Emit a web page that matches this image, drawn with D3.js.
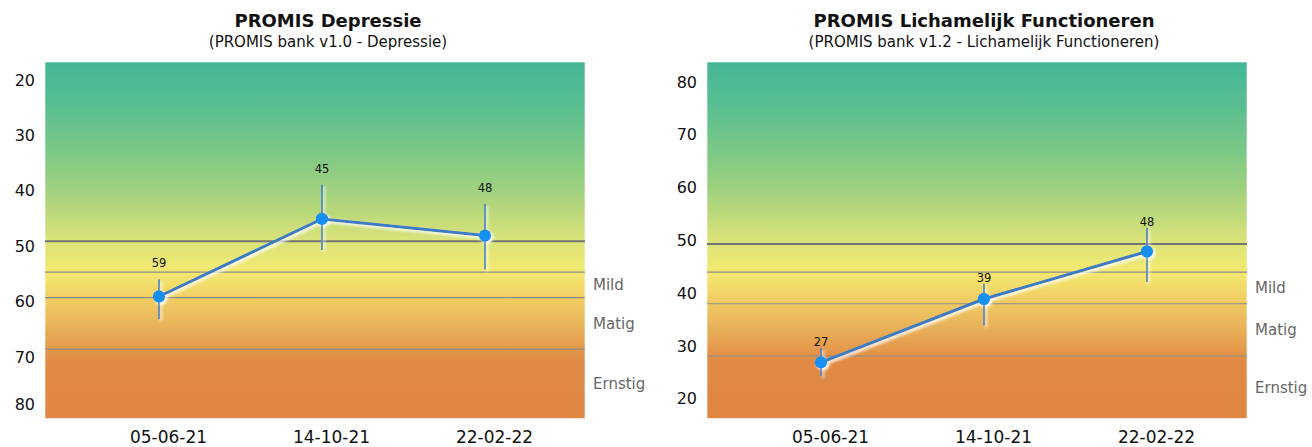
<!DOCTYPE html>
<html><head><meta charset="utf-8">
<script src="https://cdn.jsdelivr.net/npm/d3@7"></script>
<style>body{margin:0;background:#fff}svg{display:block}</style>
</head><body>
<svg id="c" width="1312" height="447"></svg>
<script>
// ---- data ----
const dates = ["05-06-21", "14-10-21", "22-02-22"];
const bandNames = ["Mild", "Matig", "Ernstig"];

const depTitle = "PROMIS Depressie";
const depSubtitle = "(PROMIS bank v1.0 - Depressie)";
const depValues = [59, 45, 48];
const depLow = [55.9, 38.8, 42.3];
const depHigh = [63.1, 50.6, 54.1];
const depTicks = [20, 30, 40, 50, 60, 70, 80];
const depLines = [49, 54.6, 59.2, 68.5];
const depDomain = [16.65, 81.03];

const pfTitle = "PROMIS Lichamelijk Functioneren";
const pfSubtitle = "(PROMIS bank v1.2 - Lichamelijk Functioneren)";
const pfValues = [27, 39, 48];
const pfLow = [24.4, 34.0, 42.2];
const pfHigh = [29.7, 41.9, 52.5];
const pfTicks = [80, 70, 60, 50, 40, 30, 20];
const pfLines = [49.4, 44.1, 38.1, 28.2];
const pfDomain = [83.9, 16.36];

// ---- drawing ----
const svg = d3.select("#c");
const FONT = "'DejaVu Sans', Verdana, sans-serif";
const defs = svg.append("defs");
const grad = defs.append("linearGradient").attr("id", "bg")
  .attr("x1", 0).attr("y1", 0).attr("x2", 0).attr("y2", 1);
[[0, "#44b797"], [0.12, "#58be90"], [0.25, "#7cc886"], [0.36, "#a0d17e"], [0.46, "#cadd7a"],
 [0.5, "#dae37a"], [0.58, "#f1e971"], [0.62, "#f3df6b"], [0.66, "#f0cf64"], [0.74, "#e9b35a"],
 [0.8, "#e59b4d"], [0.84, "#e08a45"], [1, "#df8642"]]
  .forEach(s => grad.append("stop").attr("offset", s[0]).attr("stop-color", s[1]));
const f = defs.append("filter").attr("id", "glow")
  .attr("x", "-30%").attr("y", "-30%").attr("width", "160%").attr("height", "160%");
f.append("feDropShadow").attr("dx", 2).attr("dy", 2).attr("stdDeviation", 1.6)
  .attr("flood-color", "#ffffff").attr("flood-opacity", 1);

const TOP = 62, BOT = 418.5, PW = 540;

function draw(cfg) {
  const g = svg.append("g");
  const x0 = cfg.x0;
  const y = d3.scaleLinear().domain(cfg.domain).range([TOP, BOT]);
  const x = d3.scalePoint().domain(dates).range([x0 + 114, x0 + 440]);

  // titles
  g.append("text").attr("x", cfg.cx).attr("y", 26.5).attr("text-anchor", "middle")
    .attr("font-family", FONT).attr("font-weight", "bold").attr("font-size", 18)
    .attr("fill", "#111").text(cfg.title);
  g.append("text").attr("x", cfg.cx).attr("y", 47).attr("text-anchor", "middle")
    .attr("font-family", FONT).attr("font-size", 15).attr("fill", "#111").text(cfg.subtitle);

  // background
  g.append("rect").attr("x", x0).attr("y", TOP).attr("width", PW).attr("height", BOT - TOP)
    .attr("fill", "url(#bg)").attr("stroke", "rgba(255,255,255,0.6)").attr("stroke-width", 1);

  // threshold lines
  g.selectAll(".thr").data(cfg.lines).join("line")
    .attr("x1", x0).attr("x2", x0 + PW)
    .attr("y1", d => y(d)).attr("y2", d => y(d))
    .attr("stroke", (d, i) => i === 0 ? "#747474" : "#8c8c8c")
    .attr("stroke-width", (d, i) => i === 0 ? 2 : 1.2);

  // band labels
  const bounds = [cfg.lines[1], cfg.lines[2], cfg.lines[3], cfg.domain[1]];
  g.selectAll(".band").data(bandNames).join("text")
    .attr("x", x0 + PW + 8)
    .attr("y", (d, i) => (y(bounds[i]) + y(bounds[i + 1])) / 2)
    .attr("dy", "0.35em")
    .attr("font-family", FONT).attr("font-size", 15).attr("fill", "#666").text(d => d);

  // y axis
  const ya = g.append("g").attr("transform", `translate(${x0},0)`)
    .call(d3.axisLeft(y).tickValues(cfg.ticks).tickSize(0).tickPadding(10));
  ya.select(".domain").remove();
  ya.selectAll(".tick").attr("transform", d => `translate(0,${Math.min(y(d), BOT - 14)})`);
  ya.selectAll("text").attr("font-family", FONT).attr("font-size", 16).attr("fill", "#111");

  // x axis
  const xa = g.append("g").attr("transform", `translate(0,${BOT})`)
    .call(d3.axisBottom(x).tickSize(0).tickPadding(12));
  xa.select(".domain").remove();
  xa.selectAll("text").attr("font-family", FONT).attr("font-size", 17).attr("fill", "#111")
    .attr("dx", 9);

  // series
  const pts = dates.map((d, i) => ({ d, v: cfg.values[i], lo: cfg.low[i], hi: cfg.high[i] }));
  const s = g.append("g").attr("filter", "url(#glow)");
  s.selectAll(".err").data(pts).join("line")
    .attr("x1", p => x(p.d)).attr("x2", p => x(p.d))
    .attr("y1", p => y(p.lo)).attr("y2", p => y(p.hi))
    .attr("stroke", "#3d7fc2").attr("stroke-width", 1.6);
  s.append("path").datum(pts)
    .attr("d", d3.line().x(p => x(p.d)).y(p => y(p.v)))
    .attr("fill", "none").attr("stroke", "#3a7cc4").attr("stroke-width", 3);
  s.selectAll(".dot").data(pts).join("circle")
    .attr("cx", p => x(p.d)).attr("cy", p => y(p.v)).attr("r", 6.2)
    .attr("fill", "#1690f0");

  g.selectAll(".val").data(pts).join("text")
    .attr("x", p => x(p.d))
    .attr("y", p => Math.min(y(p.lo), y(p.hi)) - cfg.gap)
    .attr("dy", "0.35em").attr("text-anchor", "middle")
    .attr("font-family", FONT).attr("font-size", 11.5).attr("fill", "#111")
    .text(p => p.v);
}

draw({ x0: 45, cx: 328, title: depTitle, subtitle: depSubtitle, values: depValues,
  low: depLow, high: depHigh, ticks: depTicks, lines: depLines, domain: depDomain, gap: 16 });
draw({ x0: 707, cx: 984, title: pfTitle, subtitle: pfSubtitle, values: pfValues,
  low: pfLow, high: pfHigh, ticks: pfTicks, lines: pfLines, domain: pfDomain, gap: 6 });
</script>
</body></html>
